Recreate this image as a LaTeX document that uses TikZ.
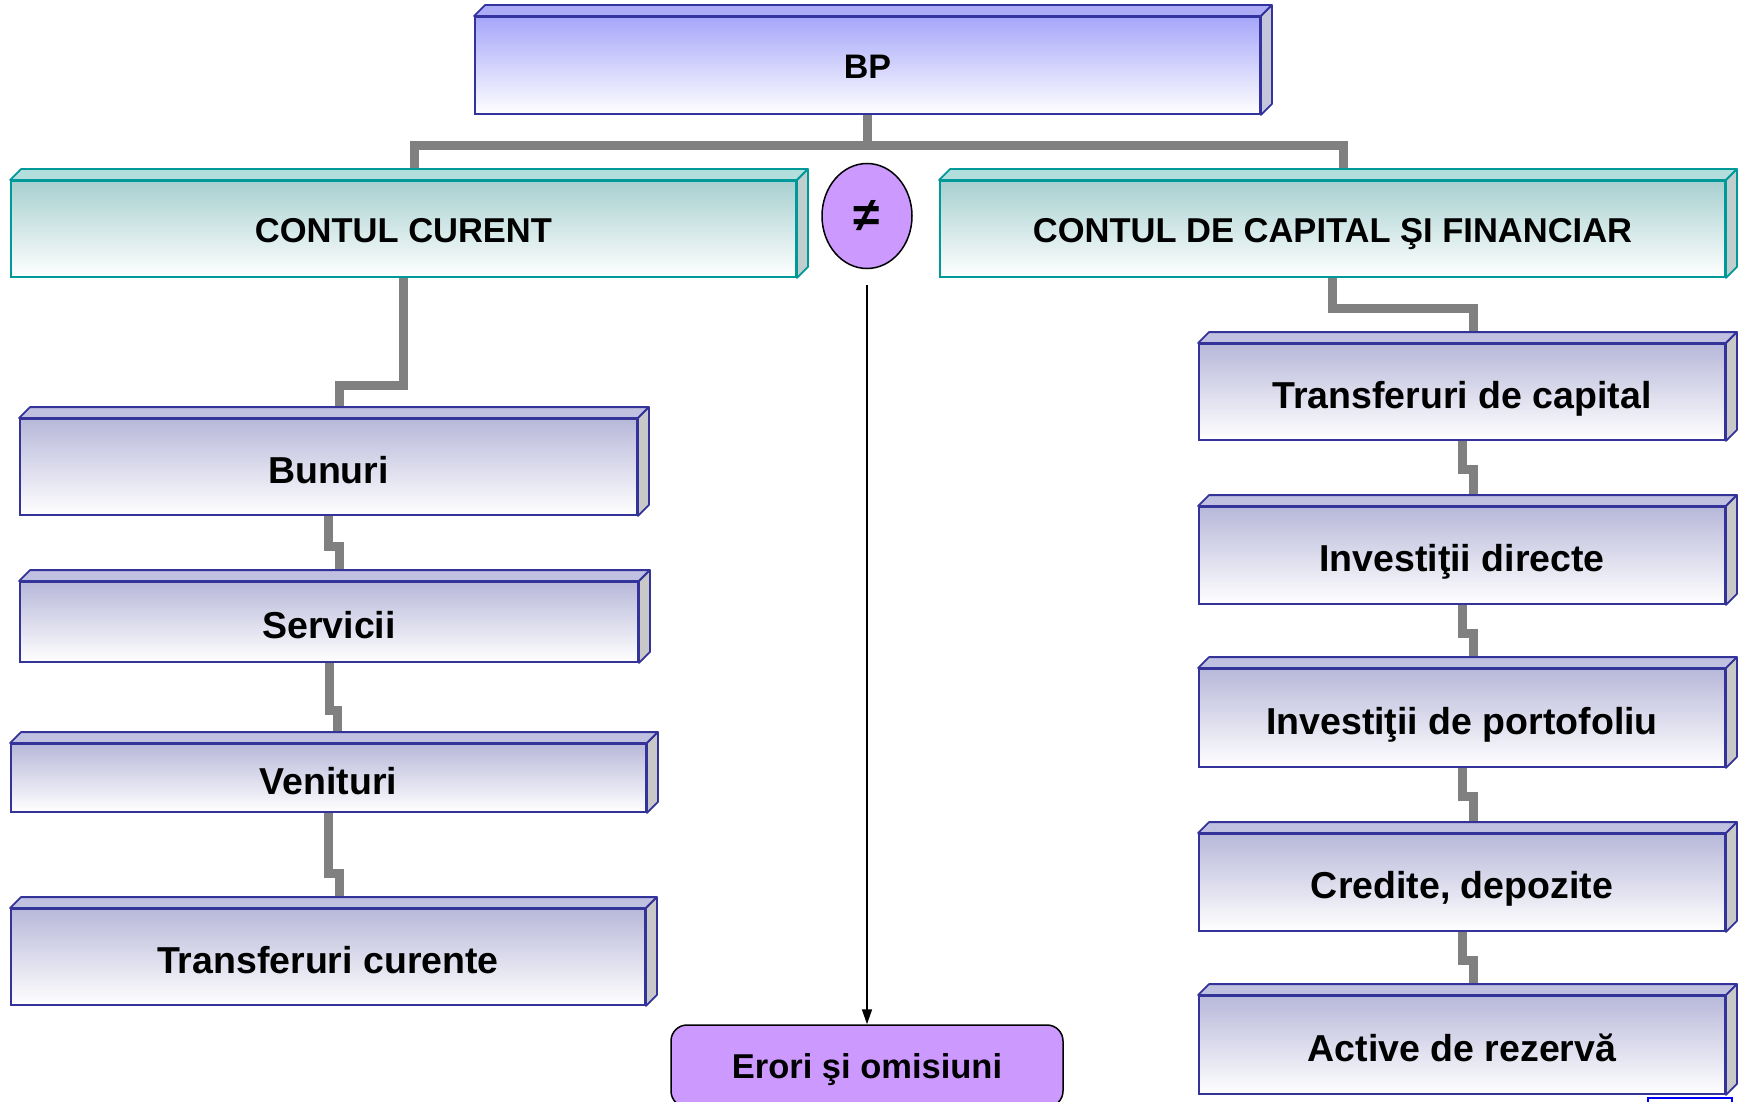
\documentclass[tikz,border=0pt]{standalone}
\usepackage{fontspec}
\setmainfont{Liberation Sans}
\usetikzlibrary{arrows.meta,backgrounds,shapes.geometric}

\begin{document}
\begin{tikzpicture}[x=1pt, y=-1pt,
  bpbox/.style={draw=bpborder, line width=1.8pt, top color=bpfront, bottom color=white,
    minimum width=785pt, minimum height=97pt, inner sep=0pt, text height=27pt, text depth=0pt,
    font=\bfseries\fontsize{34}{40}\selectfont},
  ccbox/.style={draw=ccborder, line width=1.8pt, top color=ccfront, bottom color=white,
    minimum width=785pt, minimum height=96pt, inner sep=0pt, text height=28pt, text depth=0pt,
    font=\bfseries\fontsize{34.5}{40}\selectfont},
  subbox/.style={draw=subborder, line width=1.8pt, top color=subfront, bottom color=white,
    minimum width=526pt, minimum height=96pt, inner sep=0pt, text height=32pt, text depth=0pt,
    font=\bfseries\fontsize{37.5}{42}\selectfont},
  link/.style={draw=linkgray, line width=9pt},
  face/.style={line width=1.8pt, line join=round}]
  % Define colors
  \definecolor{bpborder}{RGB}{51,51,160}
  \definecolor{bpfront}{RGB}{166,166,250}
  \definecolor{bptop}{RGB}{172,172,246}
  \definecolor{bpside}{RGB}{198,198,218}
  \definecolor{ccborder}{RGB}{0,153,153}
  \definecolor{ccfront}{RGB}{168,208,208}
  \definecolor{cctop}{RGB}{178,222,222}
  \definecolor{ccside}{RGB}{192,206,206}
  \definecolor{subborder}{RGB}{51,51,153}
  \definecolor{subfront}{RGB}{184,184,218}
  \definecolor{subtop}{RGB}{192,192,224}
  \definecolor{subside}{RGB}{200,200,200}
  \definecolor{linkgray}{RGB}{128,128,128}
  \definecolor{lilac}{RGB}{204,153,255}

  \useasboundingbox (0,0) rectangle (1738,1102);
  \clip (0,0) rectangle (1738,1102);

  % Top level
  \node[bpbox] (bp) at (867.5,65.5) {BP};
  \node[ccbox] (cc) at (403.5,229) {CONTUL CURENT};
  \node[ccbox] (cdcf) at (1332.5,229) {CONTUL DE CAPITAL ŞI FINANCIAR};
  \node[ellipse, draw=black, line width=1.5pt, fill=lilac, minimum width=90pt, minimum height=105pt,
    inner sep=0pt, font=\bfseries\fontsize{48}{50}\selectfont] (ne) at (867,216) {≠};

  % Current account items
  \node[subbox, minimum width=617pt] (bun) at (328.5,467) {Bunuri};
  \node[subbox, minimum width=618pt, minimum height=80pt] (ser) at (329,622) {Servicii};
  \node[subbox, minimum width=635pt, minimum height=68pt] (ven) at (328.5,778) {Venituri};
  \node[subbox, minimum width=634pt] (trc) at (328,957) {Transferuri curente};

  % Capital and financial account items
  \node[subbox] (tdc) at (1462,392) {Transferuri de capital};
  \node[subbox, minimum height=97pt] (ind) at (1462,555.5) {Investiţii directe};
  \node[subbox, minimum height=98pt] (inp) at (1462,718) {Investiţii de portofoliu};
  \node[subbox, minimum height=97pt] (cre) at (1462,882.5) {Credite, depozite};
  \node[subbox, minimum height=98pt] (act) at (1462,1045) {Active de rezervă};

  % Errors
  \node[draw=black, line width=1.5pt, fill=lilac, rounded corners=16pt, minimum width=392pt,
    minimum height=82pt, inner sep=0pt, text height=24.5pt, text depth=0pt,
    font=\bfseries\fontsize{34.5}{40}\selectfont] (err) at (867,1066) {Erori şi omisiuni};

  % Top and side faces of the boxes
  \foreach \n/\bc/\tc/\sc in {bp/bpborder/bptop/bpside, cc/ccborder/cctop/ccside, cdcf/ccborder/cctop/ccside,
      bun/subborder/subtop/subside, ser/subborder/subtop/subside, ven/subborder/subtop/subside,
      trc/subborder/subtop/subside, tdc/subborder/subtop/subside, ind/subborder/subtop/subside,
      inp/subborder/subtop/subside, cre/subborder/subtop/subside, act/subborder/subtop/subside} {
    \filldraw[face, fill=\tc, draw=\bc] (\n.north west) -- ++(11,-11) -- ([shift={(11,-11)}]\n.north east) -- (\n.north east) -- cycle;
    \filldraw[face, fill=\sc, draw=\bc] (\n.north east) -- ++(11,-11) -- ([shift={(11,-11)}]\n.south east) -- (\n.south east) -- cycle;
  }

  % Connectors
  \begin{scope}[on background layer]
    \draw[link] (bp.south) -- ++(0,31) -| ([xshift=11pt]cc.north);
    \draw[link] (bp.south) -- ++(0,31) -| ([xshift=11pt]cdcf.north);
    \draw[link] (cc.south) -- ++(0,108) -| ([xshift=11pt]bun.north);
    \draw[link] (bun.south) -- ++(0,31) -| ([xshift=10pt]ser.north);
    \draw[link] (ser.south) -- ++(0,48) -| ([xshift=9pt]ven.north);
    \draw[link] (ven.south) -- ++(0,61) -| ([xshift=11pt]trc.north);
    \draw[link] (cdcf.south) -- ++(0,31) -| ([xshift=11pt]tdc.north);
    \draw[link] (tdc.south) -- ++(0,29) -| ([xshift=11pt]ind.north);
    \draw[link] (ind.south) -- ++(0,29) -| ([xshift=11pt]inp.north);
    \draw[link] (inp.south) -- ++(0,29) -| ([xshift=11pt]cre.north);
    \draw[link] (cre.south) -- ++(0,29) -| ([xshift=11pt]act.north);
  \end{scope}

  % Arrow to errors
  \draw[-{Triangle[width=10pt,length=15pt]}, line width=1.5pt] ([yshift=-16pt]ne.south) -- (err.north);

  % Corner button
  \draw[draw=blue, line width=2pt] (1648,1098) rectangle (1732,1120);
\end{tikzpicture}
\end{document}
